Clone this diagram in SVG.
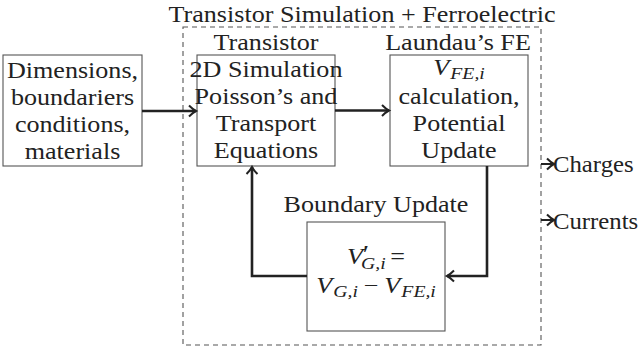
<svg xmlns="http://www.w3.org/2000/svg" width="641" height="354" viewBox="0 0 641 354">
<style>
.box{fill:#fff;stroke:#555;stroke-width:1.1}
.dash{fill:none;stroke:#555;stroke-width:1.1;stroke-dasharray:5 4}
.t{font-family:"Liberation Serif","Times New Roman",serif;font-size:22.5px;fill:#222;text-anchor:middle}
.s{text-anchor:start}
.it{font-style:italic}
.sub{font-size:17px;font-style:italic}
.conn{fill:none;stroke:#222;stroke-width:2.6;stroke-linejoin:miter}
.thin{fill:none;stroke:#222;stroke-width:2}
</style>
<defs>
<marker id="ah" markerUnits="userSpaceOnUse" markerWidth="14" markerHeight="14" viewBox="-9 -7 11 14" refX="0" refY="0" orient="auto">
<path d="M-7,-5.5 Q-3,-1.5 0,0 Q-3,1.5 -7,5.5" fill="none" stroke="#222" stroke-width="2"/>
</marker>
</defs>
<rect width="641" height="354" fill="#fff"/>
<g id="frame">
<rect class="dash" x="183" y="27" width="358" height="318"/>
<text class="t" transform="translate(362 22) scale(1.16 1)">Transistor Simulation + Ferroelectric</text>
</g>
<g id="inputs">
<rect class="box" x="3" y="55" width="139" height="111"/>
<text class="t" transform="translate(72.5 77.5) scale(1.16 1)">Dimensions,</text>
<text class="t" transform="translate(72.5 104.5) scale(1.16 1)">boundariers</text>
<text class="t" transform="translate(72.5 131.5) scale(1.16 1)">conditions,</text>
<text class="t" transform="translate(72.5 158.5) scale(1.16 1)">materials</text>
</g>
<g id="transistor">
<rect class="box" x="197" y="55" width="138" height="111"/>
<text class="t" transform="translate(266 50) scale(1.16 1)">Transistor</text>
<text class="t" transform="translate(266 77) scale(1.16 1)">2D Simulation</text>
<text class="t" transform="translate(266 104) scale(1.16 1)">Poisson’s and</text>
<text class="t" transform="translate(266 131) scale(1.16 1)">Transport</text>
<text class="t" transform="translate(266 158) scale(1.16 1)">Equations</text>
</g>
<g id="landau">
<rect class="box" x="390" y="55" width="138" height="111"/>
<text class="t" transform="translate(458 50) scale(1.16 1)">Laundau’s FE</text>
<text class="t" transform="translate(459 75) scale(1.16 1)"><tspan class="it">V</tspan><tspan class="sub" dx="1" dy="4">FE,i</tspan></text>
<text class="t" transform="translate(459 104) scale(1.16 1)">calculation,</text>
<text class="t" transform="translate(459 131) scale(1.16 1)">Potential</text>
<text class="t" transform="translate(459 158) scale(1.16 1)">Update</text>
</g>
<g id="boundary">
<rect class="box" x="307" y="222" width="138" height="109"/>
<text class="t" transform="translate(376 212) scale(1.16 1)">Boundary Update</text>
<text class="t" transform="translate(376 264) scale(1.16 1)"><tspan class="it">V</tspan><tspan font-size="25" dy="-1">′</tspan><tspan class="sub" dx="-7" dy="6">G,i</tspan><tspan dx="4" dy="-5">=</tspan></text>
<text class="t" transform="translate(376 293) scale(1.16 1)"><tspan class="it">V</tspan><tspan class="sub" dx="1" dy="4">G,i</tspan><tspan dx="5" dy="-4">−</tspan><tspan class="it" dx="5">V</tspan><tspan class="sub" dx="1" dy="4">FE,i</tspan></text>
</g>
<g id="outputs">
<text class="t s" transform="translate(553 172) scale(1.1 1)">Charges</text>
<text class="t s" transform="translate(553 229) scale(1.1 1)">Currents</text>
</g>
<g id="connectors">
<path class="conn" d="M142,111 H196" marker-end="url(#ah)"/>
<path class="conn" d="M335,110.5 H389" marker-end="url(#ah)"/>
<path class="conn" d="M487,166 V276 H447" marker-end="url(#ah)"/>
<path class="conn" d="M307,276 H252 V167" marker-end="url(#ah)"/>
<path class="thin" d="M541,164 H554" marker-end="url(#ah)"/>
<path class="thin" d="M541,220 H554" marker-end="url(#ah)"/>
</g>
</svg>
